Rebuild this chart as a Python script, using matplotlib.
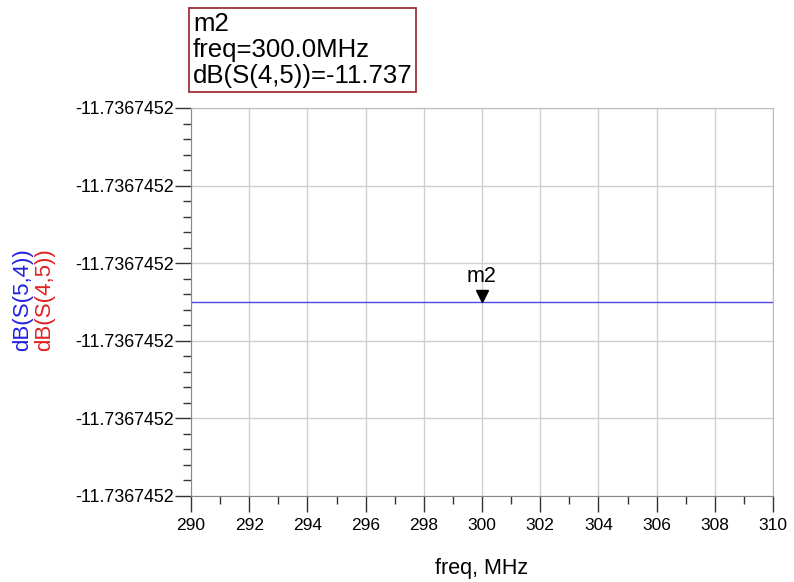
import matplotlib
matplotlib.use("Agg")
import matplotlib.pyplot as plt
import matplotlib.transforms as mtransforms
from matplotlib.ticker import MultipleLocator, FixedLocator, FormatStrFormatter, AutoMinorLocator

# --- data ---
freq_mhz = [290, 300, 310]
s45_db = [-11.7367452, -11.7367452, -11.7367452]
marker_freq = 300.0
marker_val = -11.7367452
y_lo = -11.736745249
y_hi = -11.736745151
x_ticks = [290, 292, 294, 296, 298, 300, 302, 304, 306, 308, 310]

plt.rcParams["font.family"] = ["Liberation Sans", "DejaVu Sans"]

fig = plt.figure(figsize=(7.94, 5.82), dpi=100)
ax = fig.add_axes([191 / 794, 1 - 496 / 582, (773 - 191) / 794, (496 - 108) / 582])

ax.plot(freq_mhz, s45_db, color="#4a4ae6", lw=1.0)

# marker triangle, tip on the trace
tri = mtransforms.offset_copy(ax.transData, fig=fig, x=0, y=6, units="dots")
ax.plot([marker_freq], [marker_val], marker="v", color="black", ms=9, transform=tri, clip_on=False)
ax.annotate("m2", (marker_freq, marker_val), xytext=(0, 11), textcoords="offset points",
            ha="center", va="bottom", fontsize=15.5)

ax.set_xlim(290, 310)
ax.set_ylim(y_lo, y_hi)
ax.set_xticks(x_ticks)
ax.xaxis.set_minor_locator(MultipleLocator(1))
yt = [y_lo + i * (y_hi - y_lo) / 5 for i in range(6)]
ax.yaxis.set_major_locator(FixedLocator(yt))
ax.yaxis.set_minor_locator(AutoMinorLocator(5))
ax.yaxis.set_major_formatter(FormatStrFormatter("%.7f"))

ax.grid(True, which="major", color="#cfcfcf", lw=1.0)
ax.tick_params(which="major", direction="out", length=11.5, width=1.0, color="#333333", labelsize=12.5, pad=1)
ax.tick_params(which="minor", direction="out", length=6, width=1.0, color="#333333")
ax.tick_params(axis="y", labelsize=12.9)
ax.tick_params(axis="x", pad=4)
for s in ("left", "bottom"):
    ax.spines[s].set_color("#888888")
for s in ("top", "right"):
    ax.spines[s].set_color("#bbbbbb")

ax.set_xlabel("freq, MHz", fontsize=15.5, labelpad=18)

fig.text(23 / 794, 1 - 300 / 582, "dB(S(5,4))", color="#2020e0", rotation=90,
         ha="center", va="center", fontsize=16)
fig.text(45 / 794, 1 - 300 / 582, "dB(S(4,5))", color="#e02020", rotation=90,
         ha="center", va="center", fontsize=16)

fig.text(193 / 794, 1 - 50 / 582, "m2\nfreq=300.0MHz\ndB(S(4,5))=-11.737",
         ha="left", va="center", fontsize=18.5, linespacing=1.12,
         bbox=dict(boxstyle="square,pad=0.15", fc="white", ec="#a0303a", lw=1.3))

fig.savefig("out.png", dpi=100)
